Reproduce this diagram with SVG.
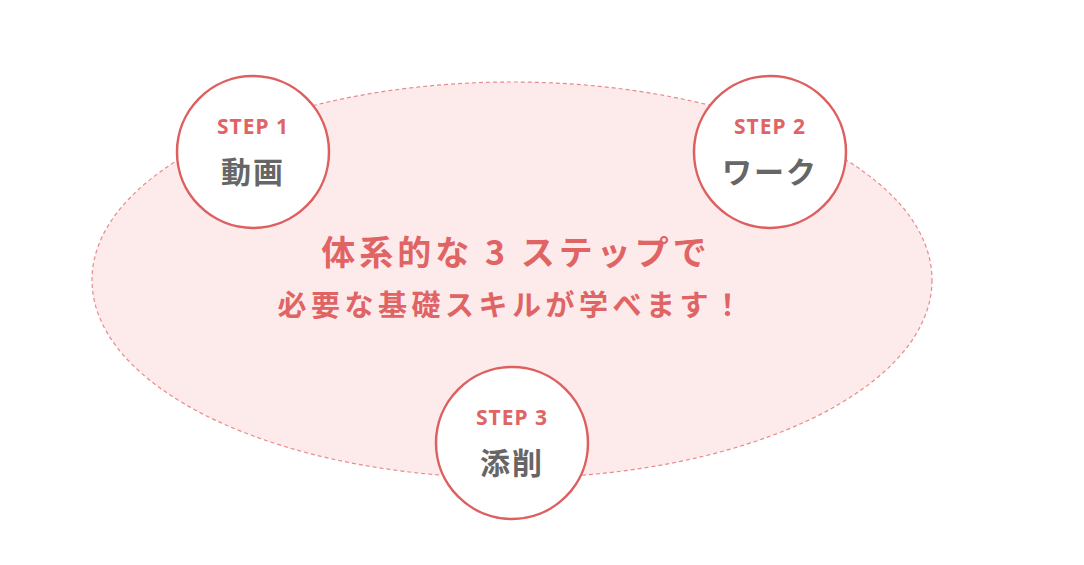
<svg xmlns="http://www.w3.org/2000/svg" width="1084" height="565" viewBox="0 0 1084 565">
<style>
.c{fill:#fff;stroke:#dd5f5f;stroke-width:2.5}
.s{font-family:"Noto Sans","Noto Sans CJK JP",sans-serif;font-weight:700;font-size:21px;letter-spacing:1px;fill:#e06464;text-anchor:middle}
.l{font-family:"Noto Sans CJK JP",sans-serif;font-weight:700;font-size:30px;letter-spacing:2px;fill:#666;text-anchor:middle}
.t{font-family:"Noto Sans CJK JP",sans-serif;font-weight:700;fill:#e06464;text-anchor:middle}
</style>
<rect width="1084" height="565" fill="#fff"/>
<g id="bg"><ellipse cx="512" cy="280" rx="420" ry="198" fill="#fdebec" stroke="#e88a8a" stroke-width="1.2" stroke-dasharray="4 3"/>
<text class="t" x="516" y="265" font-size="34" letter-spacing="4">体系的な 3 ステップで</text>
<text class="t" x="512" y="316" font-size="29" letter-spacing="4.5">必要な基礎スキルが学べます！</text></g>
<g id="connectors"></g>
<g id="step1"><circle class="c" cx="253" cy="152" r="76"/><text class="s" x="253" y="134">STEP 1</text><text class="l" x="253" y="183">動画</text></g>
<g id="step2"><circle class="c" cx="770" cy="152" r="76"/><text class="s" x="770" y="134">STEP 2</text><text class="l" x="770" y="183">ワーク</text></g>
<g id="step3"><circle class="c" cx="512" cy="443" r="76"/><text class="s" x="512" y="425">STEP 3</text><text class="l" x="512" y="474">添削</text></g>
</svg>
